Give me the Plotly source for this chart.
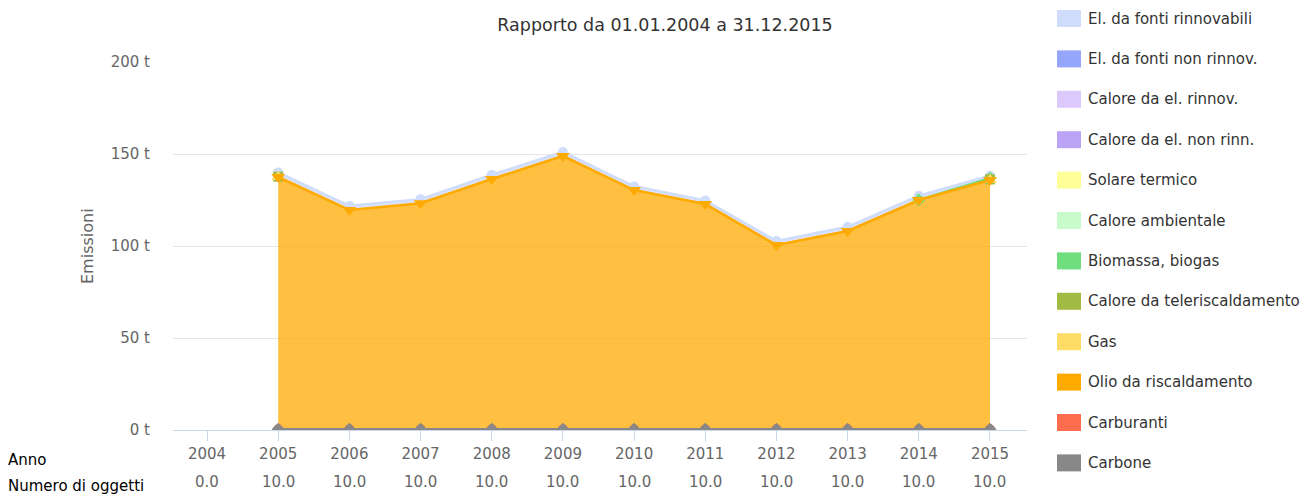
import plotly.graph_objects as go
import numpy as np

# ---------------- data ----------------
years = list(range(2004, 2016))
n_oggetti = [0.0] + [10.0] * 11

series_names = [
    "El. da fonti rinnovabili",
    "El. da fonti non rinnov.",
    "Calore da el. rinnov.",
    "Calore da el. non rinn.",
    "Solare termico",
    "Calore ambientale",
    "Biomassa, biogas",
    "Calore da teleriscaldamento",
    "Gas",
    "Olio da riscaldamento",
    "Carburanti",
    "Carbone",
]
series_colors = [
    "#D0DCFC", "#94A5FB", "#DCC8FA", "#BBA4F6", "#FFFF99", "#C8FACC",
    "#6EDE7E", "#A2BB45", "#FFDC66", "#FFAA00", "#FF6D4F", "#888888",
]
series_symbols = [
    "circle", "diamond", "square", "triangle-up", "triangle-down", "circle",
    "diamond", "square", "triangle-up", "triangle-down", "circle", "diamond",
]

el_rinnovabili = [None, 2.3, 2.2, 2.2, 2.3, 2.2, 2.0, 1.9, 2.2, 2.2, 2.3, 1.4]
el_non_rinnov = [None] * 12
calore_rinnov = [None] * 12
calore_non_rinn = [None] * 12
solare_termico = [None] * 12
calore_ambientale = [None] * 12
biomassa = [None] * 10 + [0.0, 0.6]
teleriscaldamento = [None, 0.2] + [None] * 9 + [0.3]
gas = [None, 0.0] + [None] * 9 + [0.0]
olio = [None, 137.1, 119.2, 122.8, 136.0, 148.5, 130.0, 122.4, 100.1, 107.8, 124.6, 135.5]
carburanti = [None] + [0.0] * 11
carbone = [None] + [0.4] * 11

series_values = [
    el_rinnovabili, el_non_rinnov, calore_rinnov, calore_non_rinn,
    solare_termico, calore_ambientale, biomassa, teleriscaldamento,
    gas, olio, carburanti, carbone,
]

y_ticks = [0, 50, 100, 150, 200]
title_text = "Rapporto da 01.01.2004 a 31.12.2015"
y_title = "Emissioni"
row_labels = ["Anno", "Numero di oggetti"]

# ---------------- layout geometry (page pixels) ----------------
OFF = 8  # page body margin
W, H = 1313 - OFF, 497 - OFF
L, R, T, B = 173, 1027, 62, 430
PW, PH = R - L, B - T
FONT = "Lucida Grande, DejaVu Sans, sans-serif"


def px_x(x):
    return (x - L) / PW


def px_y(y):
    return (B - y) / PH


def rgba(hex_color, a):
    h = hex_color.lstrip("#")
    r, g, b = int(h[0:2], 16), int(h[2:4], 16), int(h[4:6], 16)
    return f"rgba({r},{g},{b},{a})"


fig = go.Figure()

# Highcharts stacks first series on top -> bottom of stack is the last series
stack_order = list(range(len(series_names)))[::-1]
arr = np.array([[np.nan if v is None else v for v in s] for s in series_values], dtype=float)
has_data = ~np.all(np.isnan(arr), axis=0)
x_data = [y for y, h in zip(years, has_data) if h]
vals0 = np.nan_to_num(arr)[:, has_data]

cum = np.zeros(vals0.shape[1])
tops = {}
for k in stack_order:
    cum = cum + vals0[k]
    tops[k] = cum.copy()

# stacked fills
for k in stack_order:
    if np.all(np.isnan(arr[k])):
        continue
    fig.add_trace(go.Scatter(
        x=x_data, y=list(vals0[k]), stackgroup="s", mode="none",
        fillcolor=rgba(series_colors[k], 0.75), showlegend=False,
        hoverinfo="skip",
    ))

# lines + markers in Highcharts drawing order (series 0 first)
marker_sizes = {"circle": 10, "diamond": 10, "square": 10,
                "triangle-up": 12, "triangle-down": 12}
for k in range(len(series_names)):
    own = arr[k][has_data]
    if np.all(np.isnan(own)):
        continue
    yv = [None if np.isnan(o) else float(t) for o, t in zip(own, tops[k])]
    sym = series_symbols[k]
    fig.add_trace(go.Scatter(
        x=x_data, y=yv, mode="lines+markers", name=series_names[k],
        line=dict(color=series_colors[k], width=2.6),
        marker=dict(symbol=sym, size=marker_sizes[sym], color=series_colors[k],
                    line=dict(width=0)),
        showlegend=False, connectgaps=False,
    ))

annotations = []
shapes = []

# legend (colored squares + names)
leg_y0 = 18.5
leg_step = 40.4
for i, (name, col) in enumerate(zip(series_names, series_colors)):
    cy = leg_y0 + i * leg_step
    shapes.append(dict(
        type="rect", xref="paper", yref="paper",
        x0=px_x(1057), x1=px_x(1081), y0=px_y(cy + 8.5), y1=px_y(cy - 8.5),
        fillcolor=col, line=dict(width=0),
    ))
    annotations.append(dict(
        text=name, xref="paper", yref="paper", x=px_x(1086), y=px_y(cy),
        xanchor="left", yanchor="middle", showarrow=False,
        font=dict(family=FONT, size=15, color="#333333"),
    ))

# second row of x labels: number of objects
for yr, n in zip(years, n_oggetti):
    annotations.append(dict(
        text=f"{n:.1f}", xref="x", yref="paper", x=yr, y=px_y(482),
        xanchor="center", yanchor="middle", showarrow=False,
        font=dict(family=FONT, size=15, color="#666666"),
    ))

# row labels at left
for lab, py in zip(row_labels, [460, 486]):
    annotations.append(dict(
        text=lab, xref="paper", yref="paper", x=px_x(6), y=px_y(py),
        xanchor="left", yanchor="middle", showarrow=False,
        font=dict(family=FONT, size=15, color="#000000"),
    ))

# y-axis title
annotations.append(dict(
    text=y_title, xref="paper", yref="paper", x=px_x(87), y=px_y(246),
    xanchor="center", yanchor="middle", textangle=-90, showarrow=False,
    font=dict(family=FONT, size=16, color="#666666"),
))

fig.update_layout(
    width=W, height=H,
    margin=dict(l=L - OFF, r=W - (R - OFF), t=T - OFF, b=H - (B - OFF), pad=0),
    paper_bgcolor="white", plot_bgcolor="white",
    font=dict(family=FONT, size=15, color="#666666"),
    title=dict(
        text=title_text, x=(665 - OFF) / W, xref="container", xanchor="center",
        y=1 - (25 - OFF) / H, yref="container", yanchor="middle",
        font=dict(family=FONT, size=17.5, color="#333333"),
    ),
    showlegend=False,
    annotations=annotations,
    shapes=shapes,
    hovermode=False,
)

fig.update_xaxes(
    range=[2003.522, 2015.52], tickmode="array", tickvals=years,
    ticktext=[str(y) for y in years],
    showgrid=False, zeroline=False,
    showline=True, linecolor="#ccd6eb", linewidth=1,
    ticks="outside", ticklen=10, tickcolor="#ccd6eb", tickwidth=1,
    tickfont=dict(family=FONT, size=15, color="#666666"),
)
fig.update_yaxes(
    range=[0, 200], tickmode="array", tickvals=y_ticks,
    ticktext=[f"{v} t" for v in y_ticks],
    showgrid=True, gridcolor="#e6e6e6", gridwidth=1,
    zeroline=False, showline=False, ticks="", ticklabelstandoff=22,
    tickfont=dict(family=FONT, size=15, color="#666666"),
)

fig.write_html("out.html")
